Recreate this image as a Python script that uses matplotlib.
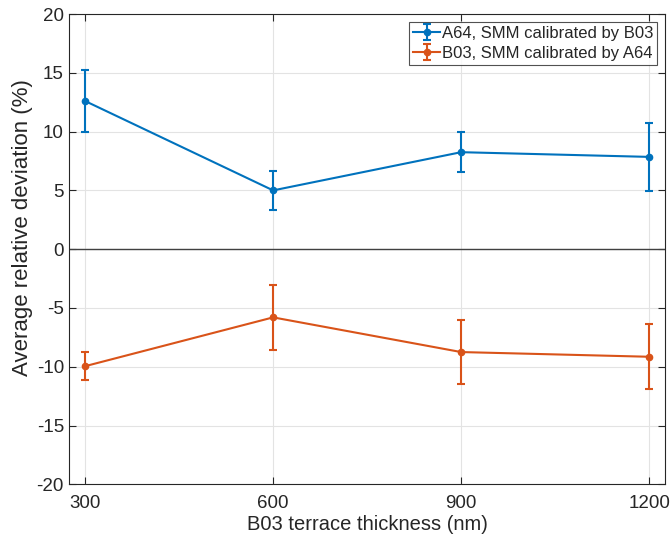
import numpy as np
import matplotlib
matplotlib.use("Agg")
from matplotlib import pyplot as plt

plt.rcParams['font.family'] = ['Liberation Sans', 'DejaVu Sans']
plt.rcParams['axes.unicode_minus'] = False

thickness = [300, 600, 900, 1200]

a64_mean = [12.6, 5.0, 8.25, 7.85]
a64_err = [2.6, 1.65, 1.72, 2.87]

b03_mean = [-9.95, -5.8, -8.75, -9.15]
b03_err = [1.2, 2.75, 2.75, 2.75]

blue = '#0072BD'
orange = '#D95319'
axcol = '#262626'

fig = plt.figure(figsize=(6.7, 5.4), dpi=100)
ax = fig.add_axes([0.1037, 0.1031, 0.8885, 0.8709])

ax.axhline(0, color='#404040', lw=1.0, zorder=1)

ax.errorbar(thickness, a64_mean, yerr=a64_err, color=blue, lw=1.5,
            marker='o', ms=4.5, capsize=3, capthick=1.5, elinewidth=1.5,
            label='A64, SMM calibrated by B03', zorder=3)
ax.errorbar(thickness, b03_mean, yerr=b03_err, color=orange, lw=1.5,
            marker='o', ms=4.5, capsize=3, capthick=1.5, elinewidth=1.5,
            label='B03, SMM calibrated by A64', zorder=3)

ax.set_xlim(275, 1225)
ax.set_ylim(-20, 20)
ax.set_xticks(thickness)
ax.set_yticks(np.arange(-20, 21, 5))

ax.grid(True, color='#e3e3e3', lw=0.8)
ax.set_axisbelow(True)

for s in ax.spines.values():
    s.set_color(axcol)
    s.set_linewidth(0.8)
ax.tick_params(direction='in', top=True, right=True, length=5,
               color=axcol, labelcolor=axcol, labelsize=13.5, width=0.8)
ax.tick_params(axis='x', pad=8)
ax.tick_params(axis='y', pad=4)

ax.set_xlabel('B03 terrace thickness (nm)', fontsize=14.5, color=axcol, labelpad=2)
ax.set_ylabel('Average relative deviation (%)', fontsize=16, color=axcol)
ax.yaxis.set_label_coords(-0.062, 0.547)

leg = ax.legend(loc='upper right', fontsize=12, frameon=True, fancybox=False,
                edgecolor=axcol, borderpad=0.25, handlelength=1.6,
                handletextpad=0.1, labelspacing=0.3, borderaxespad=0.45)
leg.get_frame().set_linewidth(0.8)
for t in leg.get_texts():
    t.set_color(axcol)

fig.savefig('out.png', dpi=100)
